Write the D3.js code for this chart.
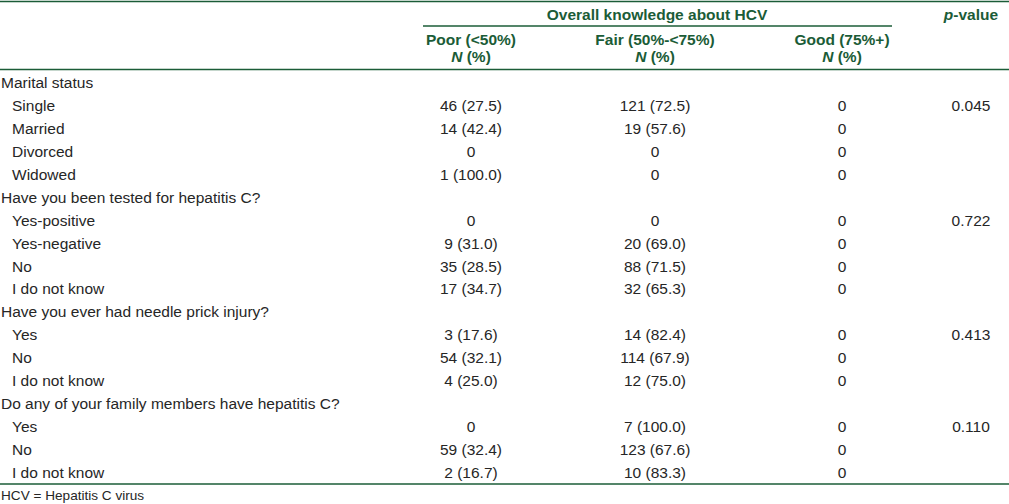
<!DOCTYPE html>
<html>
<head>
<meta charset="utf-8">
<script src="https://cdn.jsdelivr.net/npm/d3@7"></script>
<style>
  html, body { margin: 0; padding: 0; background: #fff; }
  svg { display: block; }
  text { font-family: "Liberation Sans", Arial, Helvetica, sans-serif; }
</style>
</head>
<body>
<svg id="chart" width="1009" height="504"></svg>
<script>
// ---- Data ----
const rowLabels = [
  "Marital status", "Single", "Married", "Divorced", "Widowed",
  "Have you been tested for hepatitis C?", "Yes-positive", "Yes-negative", "No", "I do not know",
  "Have you ever had needle prick injury?", "Yes", "No", "I do not know",
  "Do any of your family members have hepatitis C?", "Yes", "No", "I do not know"
];
const isGroup = [true, false, false, false, false, true, false, false, false, false, true, false, false, false, true, false, false, false];
const poorValues = ["", "46 (27.5)", "14 (42.4)", "0", "1 (100.0)", "", "0", "9 (31.0)", "35 (28.5)", "17 (34.7)", "", "3 (17.6)", "54 (32.1)", "4 (25.0)", "", "0", "59 (32.4)", "2 (16.7)"];
const fairValues = ["", "121 (72.5)", "19 (57.6)", "0", "0", "", "0", "20 (69.0)", "88 (71.5)", "32 (65.3)", "", "14 (82.4)", "114 (67.9)", "12 (75.0)", "", "7 (100.0)", "123 (67.6)", "10 (83.3)"];
const goodValues = ["", "0", "0", "0", "0", "", "0", "0", "0", "0", "", "0", "0", "0", "", "0", "0", "0"];
const pValues = ["", "0.045", "", "", "", "", "0.722", "", "", "", "", "0.413", "", "", "", "0.110", "", ""];
const columnKeys = ["poor", "fair", "good", "p"];
const columnHeaders = ["Poor (<50%)", "Fair (50%-<75%)", "Good (75%+)"];
const spanHeader = "Overall knowledge about HCV";
const footnote = "HCV = Hepatitis C virus";

// ---- Layout ----
const W = 1009, H = 504;
const green = "#1b5c37";
const textCol = "#262626";
const fs = 15.5;
const svg = d3.select("#chart");

const x = d3.scaleOrdinal().domain(columnKeys).range([471, 655, 842, 971]);
const y = d3.scalePoint().domain(d3.range(rowLabels.length)).range([88, 478]);

// rules
const line = (x1, x2, yy) => svg.append("line")
  .attr("x1", x1).attr("x2", x2).attr("y1", yy).attr("y2", yy)
  .attr("stroke", green).attr("stroke-width", 1.5);
line(0, W, 1.5);
line(423, 892, 26);
line(0, W, 69.5);
line(0, W, 484);

// header
const hdr = svg.append("g").attr("fill", green).attr("font-weight", "bold").attr("font-size", fs).attr("text-anchor", "middle");
hdr.append("text").attr("x", 657).attr("y", 20).text(spanHeader);
const pv = hdr.append("text").attr("x", x("p")).attr("y", 20);
pv.append("tspan").attr("font-style", "italic").text("p");
pv.append("tspan").text("-value");

columnKeys.slice(0, 3).forEach((k, i) => {
  hdr.append("text").attr("x", x(k)).attr("y", 45).text(columnHeaders[i]);
  const n = hdr.append("text").attr("x", x(k)).attr("y", 62);
  n.append("tspan").attr("font-style", "italic").text("N");
  n.append("tspan").text(" (%)");
});

// body
const body = svg.append("g").attr("fill", textCol).attr("font-size", fs);
body.selectAll("text.label").data(rowLabels).join("text")
  .attr("class", "label")
  .attr("x", (d, i) => isGroup[i] ? 1 : 12)
  .attr("y", (d, i) => y(i))
  .text(d => d);

const cols = { poor: poorValues, fair: fairValues, good: goodValues, p: pValues };
columnKeys.forEach(k => {
  body.selectAll("text.c-" + k).data(cols[k]).join("text")
    .attr("class", "c-" + k)
    .attr("text-anchor", "middle")
    .attr("x", x(k))
    .attr("y", (d, i) => y(i))
    .text(d => d);
});

svg.append("text").attr("x", 1).attr("y", 499.5).attr("font-size", 13.6).attr("fill", textCol).text(footnote);
</script>
</body>
</html>
